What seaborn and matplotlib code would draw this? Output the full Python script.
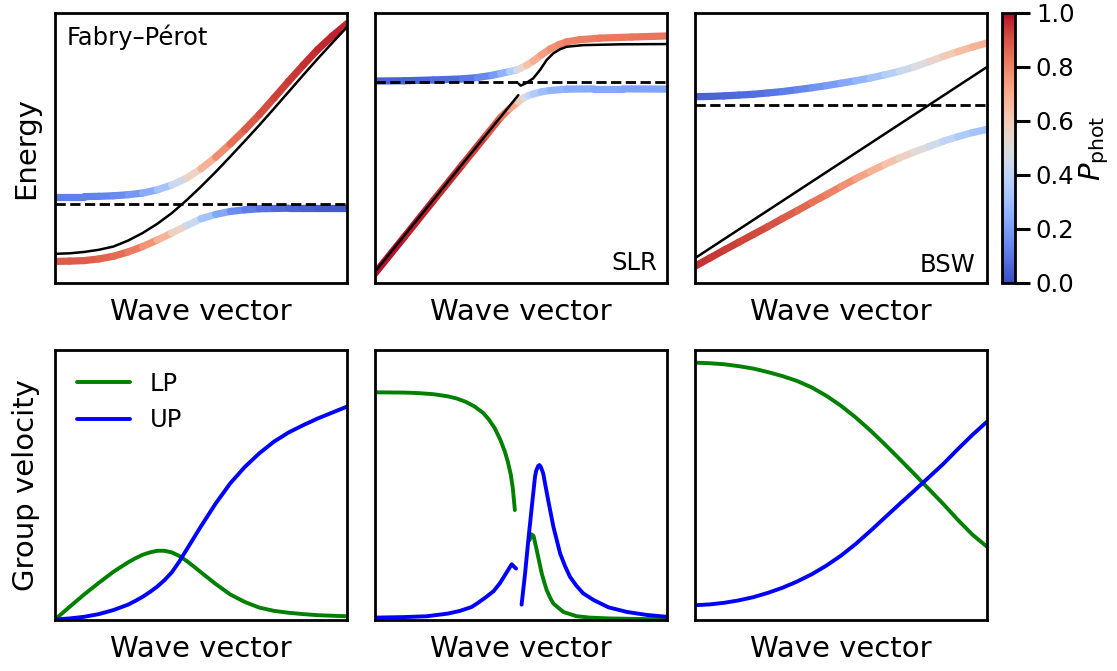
import matplotlib
matplotlib.use("Agg")
import numpy as np
import matplotlib.pyplot as plt
from matplotlib.collections import LineCollection
from matplotlib.colors import Normalize
from matplotlib.cm import ScalarMappable
import seaborn as sns

# ---------------------------------------------------------------- data
# Fabry–Pérot cavity (wave vector and energies in arbitrary units)
fp_k = [0.00, 0.05, 0.10, 0.15, 0.20, 0.25, 0.30, 0.35, 0.40, 0.45, 0.50,
        0.55, 0.60, 0.65, 0.70, 0.75, 0.80, 0.85, 0.90, 0.95, 1.00]
fp_photon = [0.108, 0.110, 0.115, 0.123, 0.135, 0.157, 0.185, 0.219, 0.259, 0.306, 0.357,
             0.411, 0.468, 0.526, 0.585, 0.646, 0.708, 0.770, 0.831, 0.890, 0.948]
fp_up = [0.320, 0.320, 0.320, 0.321, 0.323, 0.327, 0.333, 0.345, 0.363, 0.388, 0.423,
         0.466, 0.515, 0.568, 0.624, 0.685, 0.747, 0.807, 0.865, 0.915, 0.960]
fp_lp = [0.080, 0.081, 0.083, 0.089, 0.099, 0.115, 0.135, 0.159, 0.185, 0.212, 0.238,
         0.254, 0.265, 0.271, 0.275, 0.276, 0.277, 0.277, 0.277, 0.277, 0.277]
fp_up_phot = [0.12, 0.12, 0.12, 0.13, 0.14, 0.16, 0.20, 0.27, 0.37, 0.50, 0.63,
              0.74, 0.82, 0.87, 0.90, 0.92, 0.94, 0.95, 0.96, 0.97, 0.975]
fp_lp_phot = [0.88, 0.88, 0.88, 0.87, 0.86, 0.84, 0.80, 0.73, 0.63, 0.50, 0.37,
              0.26, 0.18, 0.13, 0.10, 0.08, 0.06, 0.05, 0.04, 0.03, 0.025]
fp_exciton = 0.293
fp_vg_k = [0.00, 0.05, 0.10, 0.15, 0.20, 0.25, 0.275, 0.30, 0.325, 0.35, 0.375, 0.40, 0.425,
           0.45, 0.475, 0.50, 0.55, 0.60, 0.65, 0.70, 0.75, 0.80, 0.85, 0.90, 0.95, 1.00]
fp_vg_lp = [0.000, 0.047, 0.093, 0.136, 0.177, 0.212, 0.227, 0.240, 0.249, 0.255, 0.255, 0.249, 0.236,
            0.218, 0.197, 0.175, 0.132, 0.093, 0.065, 0.044, 0.032, 0.025, 0.020, 0.016, 0.014, 0.012]
fp_vg_up = [0.000, 0.004, 0.010, 0.020, 0.035, 0.055, 0.069, 0.084, 0.102, 0.122, 0.146, 0.175, 0.214,
            0.258, 0.302, 0.346, 0.430, 0.505, 0.566, 0.617, 0.660, 0.694, 0.721, 0.746, 0.768, 0.790]

# Surface lattice resonance
slr_photon_lo_k = [0.00, 0.25, 0.491]
slr_photon_lo = [0.042, 0.375, 0.696]
slr_photon_hi_k = [0.492, 0.499, 0.517, 0.542, 0.565, 0.588, 0.611, 0.634, 0.656, 0.713, 0.839, 1.00]
slr_photon_hi = [0.738, 0.731, 0.740, 0.758, 0.789, 0.826, 0.851, 0.866, 0.875, 0.881, 0.884, 0.885]
slr_up_k = [0.00, 0.10, 0.20, 0.30, 0.35, 0.40, 0.43, 0.46, 0.485, 0.50, 0.52,
            0.542, 0.57, 0.60, 0.63, 0.656, 0.70, 0.77, 0.88, 1.00]
slr_up = [0.748, 0.749, 0.752, 0.756, 0.761, 0.769, 0.776, 0.783, 0.789, 0.796, 0.807,
          0.822, 0.845, 0.867, 0.883, 0.893, 0.901, 0.907, 0.911, 0.915]
slr_up_phot = [0.05, 0.05, 0.06, 0.09, 0.12, 0.17, 0.22, 0.30, 0.42, 0.50, 0.60,
               0.67, 0.72, 0.76, 0.78, 0.80, 0.81, 0.82, 0.83, 0.83]
slr_lp_k = [0.00, 0.10, 0.20, 0.30, 0.38, 0.43, 0.46, 0.49, 0.51, 0.525, 0.542,
            0.57, 0.60, 0.656, 0.75, 0.85, 1.00]
slr_lp = [0.036, 0.170, 0.305, 0.439, 0.546, 0.613, 0.645, 0.671, 0.686, 0.694, 0.700,
          0.708, 0.713, 0.718, 0.719, 0.719, 0.718]
slr_lp_phot = [0.99, 0.98, 0.97, 0.95, 0.91, 0.86, 0.78, 0.66, 0.53, 0.44, 0.38,
               0.32, 0.28, 0.25, 0.23, 0.22, 0.21]
slr_exciton = 0.744
slr_vg_lp1_k = [0.00, 0.10, 0.15, 0.20, 0.25, 0.28, 0.31, 0.34, 0.37, 0.39, 0.41,
                0.43, 0.445, 0.455, 0.465, 0.472, 0.479]
slr_vg_lp1 = [0.843, 0.842, 0.840, 0.836, 0.828, 0.820, 0.808, 0.791, 0.767, 0.742, 0.710,
              0.665, 0.622, 0.585, 0.538, 0.487, 0.406]
slr_vg_lp2_k = [0.529, 0.536, 0.543, 0.554, 0.571, 0.58, 0.588, 0.60, 0.611, 0.645, 0.691,
                0.736, 0.80, 0.90, 1.00]
slr_vg_lp2 = [0.294, 0.316, 0.310, 0.257, 0.171, 0.137, 0.109, 0.080, 0.059, 0.028, 0.012,
              0.007, 0.004, 0.002, 0.001]
slr_vg_up1_k = [0.00, 0.10, 0.177, 0.25, 0.291, 0.33, 0.349, 0.38, 0.406, 0.428, 0.451, 0.468, 0.483]
slr_vg_up1 = [0.007, 0.009, 0.012, 0.022, 0.032, 0.046, 0.059, 0.083, 0.105, 0.135, 0.175, 0.205, 0.189]
slr_vg_up2_k = [0.502, 0.514, 0.525, 0.537, 0.548, 0.552, 0.559, 0.563, 0.568, 0.576, 0.593,
                0.611, 0.634, 0.65, 0.668, 0.69, 0.713, 0.749, 0.80, 0.863, 0.93, 1.00]
slr_vg_up2 = [0.055, 0.171, 0.294, 0.418, 0.530, 0.552, 0.570, 0.573, 0.566, 0.542, 0.443,
              0.344, 0.245, 0.200, 0.158, 0.125, 0.097, 0.072, 0.045, 0.028, 0.017, 0.010]

# Bloch surface wave
bsw_k = fp_k
bsw_photon_k = [0.0, 0.5, 1.0]
bsw_photon = [0.092, 0.446, 0.800]
bsw_up = [0.690, 0.691, 0.693, 0.696, 0.699, 0.704, 0.709, 0.716, 0.723, 0.731, 0.740,
          0.749, 0.759, 0.771, 0.784, 0.800, 0.819, 0.839, 0.857, 0.874, 0.889]
bsw_lp = [0.062, 0.092, 0.122, 0.151, 0.180, 0.209, 0.239, 0.268, 0.298, 0.327, 0.357,
          0.386, 0.413, 0.439, 0.463, 0.485, 0.505, 0.525, 0.542, 0.557, 0.569]
bsw_up_phot = [0.05, 0.05, 0.06, 0.07, 0.08, 0.09, 0.11, 0.13, 0.15, 0.18, 0.21,
               0.25, 0.29, 0.34, 0.40, 0.46, 0.52, 0.58, 0.63, 0.67, 0.70]
bsw_lp_phot = [0.95, 0.95, 0.94, 0.93, 0.92, 0.91, 0.89, 0.87, 0.85, 0.82, 0.79,
               0.75, 0.71, 0.66, 0.60, 0.54, 0.48, 0.42, 0.37, 0.33, 0.30]
bsw_exciton = 0.659
bsw_vg_lp = [0.953, 0.951, 0.947, 0.940, 0.931, 0.918, 0.903, 0.885, 0.861, 0.830, 0.793,
             0.750, 0.702, 0.650, 0.596, 0.541, 0.485, 0.429, 0.370, 0.315, 0.270]
bsw_vg_up = [0.053, 0.056, 0.062, 0.071, 0.083, 0.099, 0.118, 0.141, 0.168, 0.200, 0.237,
             0.280, 0.328, 0.378, 0.428, 0.477, 0.527, 0.577, 0.632, 0.685, 0.734]

panel_names = ["Fabry–Pérot", "SLR", "BSW"]
colorbar_ticks = [0.0, 0.2, 0.4, 0.6, 0.8, 1.0]

# ---------------------------------------------------------------- style
sns.set_theme(style="white", context="talk")
plt.rcParams["font.family"] = ["DejaVu Sans"]
for key in ("text.color", "axes.labelcolor", "xtick.color", "ytick.color", "axes.edgecolor"):
    plt.rcParams[key] = "black"
plt.rcParams["axes.linewidth"] = 2.0

cmap = plt.get_cmap("coolwarm")
norm = Normalize(vmin=0.0, vmax=1.0)

LABEL_FS = 21
TEXT_FS = 17.5
LP_COLOR = "green"
UP_COLOR = "blue"

W, H = 1117, 671
fig = plt.figure(figsize=(W / 100, H / 100), dpi=100)


def px_axes(left, top, right, bottom):
    return fig.add_axes([left / W, (H - bottom) / H, (right - left) / W, (bottom - top) / H])


def polariton_band(ax, k, e, phot, lw=5.2):
    pts = np.column_stack([k, e])
    segs = np.stack([pts[:-1], pts[1:]], axis=1)
    p = np.asarray(phot)
    lc = LineCollection(segs, colors=cmap(norm(0.5 * (p[:-1] + p[1:]))),
                        linewidths=lw, capstyle="round", joinstyle="round", zorder=2)
    ax.add_collection(lc)


def bare_line(ax, k, e):
    sns.lineplot(x=k, y=e, ax=ax, color="black", lw=1.8, sort=False,
                 estimator=None, zorder=3, legend=False)


def tidy(ax, ylabel=None):
    ax.set_xlim(0, 1)
    ax.set_ylim(0, 1)
    ax.set_xticks([])
    ax.set_yticks([])
    ax.set_xlabel("Wave vector", fontsize=LABEL_FS, labelpad=11)
    if ylabel:
        ax.set_ylabel(ylabel, fontsize=LABEL_FS, labelpad=11)
    for s in ax.spines.values():
        s.set_linewidth(2.0)
        s.set_color("black")


cols = [(55, 347), (375, 667), (695, 987)]
top_axes = [px_axes(l, 13, r, 283) for l, r in cols]
bot_axes = [px_axes(l, 350, r, 619.5) for l, r in cols]

# ---------------------------------------------------------------- energy panels
ax = top_axes[0]
polariton_band(ax, fp_k, fp_up, fp_up_phot)
polariton_band(ax, fp_k, fp_lp, fp_lp_phot)
bare_line(ax, fp_k, fp_photon)
ax.axhline(fp_exciton, color="black", ls="--", lw=2.0, zorder=3)
ax.text(0.04, 0.958, panel_names[0], transform=ax.transAxes, ha="left", va="top",
        fontsize=TEXT_FS)
tidy(ax, "Energy")

ax = top_axes[1]
polariton_band(ax, slr_up_k, slr_up, slr_up_phot)
polariton_band(ax, slr_lp_k, slr_lp, slr_lp_phot)
bare_line(ax, slr_photon_lo_k, slr_photon_lo)
bare_line(ax, slr_photon_hi_k, slr_photon_hi)
ax.axhline(slr_exciton, color="black", ls="--", lw=2.0, zorder=3)
ax.text(0.965, 0.05, panel_names[1], transform=ax.transAxes, ha="right", va="baseline",
        fontsize=TEXT_FS)
tidy(ax)

ax = top_axes[2]
polariton_band(ax, bsw_k, bsw_up, bsw_up_phot)
polariton_band(ax, bsw_k, bsw_lp, bsw_lp_phot)
bare_line(ax, bsw_photon_k, bsw_photon)
ax.axhline(bsw_exciton, color="black", ls="--", lw=2.0, zorder=3)
ax.text(0.96, 0.042, panel_names[2], transform=ax.transAxes, ha="right", va="baseline",
        fontsize=TEXT_FS)
tidy(ax)

# ---------------------------------------------------------------- group velocity panels
VG_LW = 2.8


def vg_line(ax, k, v, color, label=None):
    sns.lineplot(x=k, y=v, ax=ax, color=color, lw=VG_LW, sort=False, estimator=None,
                 label=label, legend=False)


ax = bot_axes[0]
vg_line(ax, fp_vg_k, fp_vg_lp, LP_COLOR, "LP")
vg_line(ax, fp_vg_k, fp_vg_up, UP_COLOR, "UP")
ax.legend(loc="upper left", frameon=False, fontsize=TEXT_FS, handlelength=2.2,
          labelspacing=0.5)
tidy(ax, "Group velocity")

ax = bot_axes[1]
vg_line(ax, slr_vg_lp1_k, slr_vg_lp1, LP_COLOR)
vg_line(ax, slr_vg_lp2_k, slr_vg_lp2, LP_COLOR)
vg_line(ax, slr_vg_up1_k, slr_vg_up1, UP_COLOR)
vg_line(ax, slr_vg_up2_k, slr_vg_up2, UP_COLOR)
tidy(ax)

ax = bot_axes[2]
vg_line(ax, bsw_k, bsw_vg_lp, LP_COLOR)
vg_line(ax, bsw_k, bsw_vg_up, UP_COLOR)
tidy(ax)

# ---------------------------------------------------------------- colorbar
cax = px_axes(1002, 13, 1015, 283)
sm = ScalarMappable(norm=norm, cmap=cmap)
cb = fig.colorbar(sm, cax=cax, ticks=colorbar_ticks)
cb.outline.set_linewidth(2.0)
cb.outline.set_edgecolor("black")
cax.tick_params(length=11, width=2.2, labelsize=17.5, pad=4, color="black")
cb.set_label(r"$P_{\rm phot}$", fontsize=LABEL_FS, labelpad=2)

fig.savefig("out.png", dpi=100)
